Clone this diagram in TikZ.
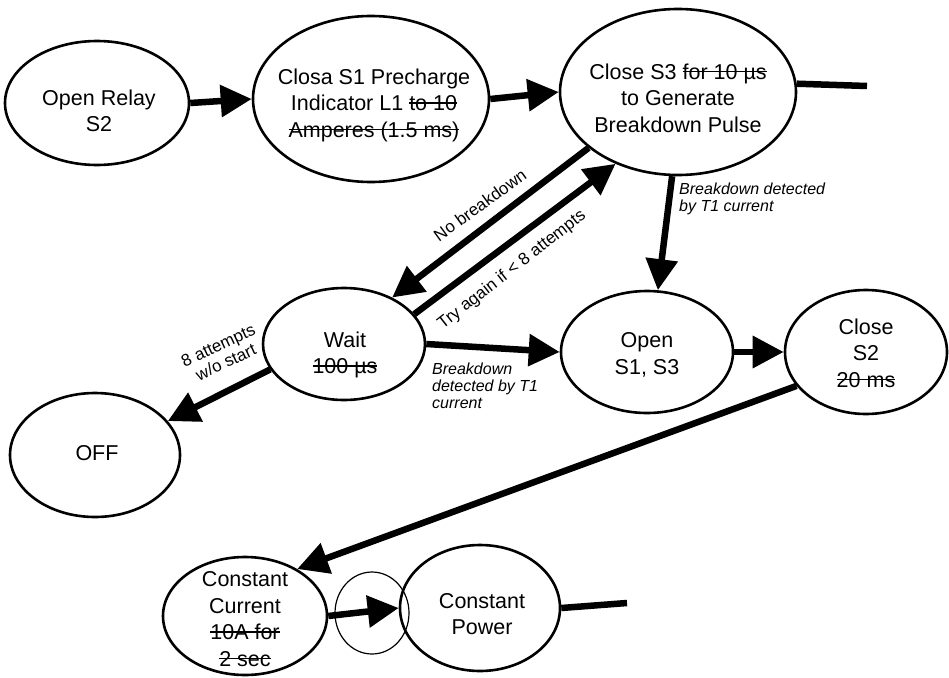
\documentclass[tikz,border=0pt]{standalone}
\usepackage{fontspec}
\setmainfont{Liberation Sans}
\newcommand{\mystrike}[1]{\setbox0\hbox{#1}\rlap{\rule[0.32em]{\wd0}{1.5pt}}\box0}
\usetikzlibrary{shapes.geometric,arrows.meta}
\begin{document}
\begin{tikzpicture}[x=1pt,y=-1pt,
  st/.style={ellipse, draw, line width=2.6pt, inner sep=0pt},
  txt/.style={align=center, font=\fontsize{21.5}{26.5}\selectfont, inner sep=0pt},
  lab/.style={font=\fontsize{17}{18}\selectfont, inner sep=0pt, align=center},
  ilab/.style={font=\itshape\fontsize{16}{17}\selectfont, inner sep=0pt, align=left},
  arr/.style={line width=6.5pt, -{Triangle[length=31pt,width=31pt]}},
  bar/.style={line width=6.5pt},
  hand/.style={line width=1.2pt}
]
\useasboundingbox (0,0) rectangle (949,677);

% states
\node[st, minimum width=184pt, minimum height=124pt] (or) at (97,103) {};
\node[txt] (tor) at (99,111) {Open Relay\\S2};

\node[st, minimum width=236pt, minimum height=166pt] (s1) at (371,99) {};
\node[txt] (ts1) at (374,105) {Closa S1 Precharge\\Indicator L1 \mystrike{to 10}\\\mystrike{Amperes (1.5 ms)}};

\node[st, minimum width=236pt, minimum height=166pt] (s3) at (678,92) {};
\node[txt] (ts3) at (678,98) {Close S3 \mystrike{for 10 µs}\\to Generate\\Breakdown Pulse};

\node[st, minimum width=162pt, minimum height=112pt] (wait) at (344,344) {};
\node[txt] (twait) at (345,355) {Wait\\\mystrike{100 µs}};

\node[st, minimum width=170pt, minimum height=124pt] (off) at (95,455) {};
\node[txt] (toff) at (97,453) {OFF};

\node[st, minimum width=172pt, minimum height=122pt] (open) at (647,352) {};
\node[txt] (topen) at (647,355) {Open\\S1, S3};

\node[st, minimum width=162pt, minimum height=124pt] (cs2) at (866,352) {};
\node[txt] (tcs2) at (866,353) {Close\\S2\\\mystrike{20 ms}};

\node[st, minimum width=164pt, minimum height=118pt] (cc) at (245,616) {};
\node[txt] (tcc) at (245,619) {Constant\\Current\\\mystrike{10A for}\\\mystrike{2 sec}};

\node[st, minimum width=160pt, minimum height=126pt] (cp) at (480,608) {};
\node[txt] (tcp) at (482,614) {Constant\\Power};

% hand-drawn circle around the arrow head
\draw[hand] (372,613) ellipse [x radius=37, y radius=41];

% connectors
\draw[arr] (or.east) -- (s1.west);
\draw[arr] (s1.east) -- (s3.west);
\coordinate (s3out) at (867,86);
\draw[bar] (s3.4) -- (s3out);

\draw[arr] (s3.212) -- (wait.44);
\draw[arr] (wait.23) -- (s3.229);
\draw[arr] (s3.266) -- (open.80);
\draw[arr] (wait.east) -- (open.west);
\draw[arr] (open.east) -- (cs2.west);
\draw[arr] (wait.199) -- (off.25);
\draw[arr] (cs2.206) -- (cc.42);
\draw[arr] (cc.east) -- (cp.west);
\coordinate (cpout) at (627,603);
\draw[bar] (cp.east) -- (cpout);

% labels
\node[lab, rotate=36] (lnb) at (480,205) {No breakdown};
\node[lab, rotate=38] (ltry) at (512,270) {Try again if < 8 attempts};
\node[lab, rotate=25] (l8) at (222,354) {8 attempts\\w/o start};
\node[ilab, anchor=north west] (lbd1) at (679,183) {Breakdown detected\\by T1 current};
\node[ilab, anchor=north west] (lbd2) at (432,363) {Breakdown\\detected by T1\\current};
\end{tikzpicture}
\end{document}
